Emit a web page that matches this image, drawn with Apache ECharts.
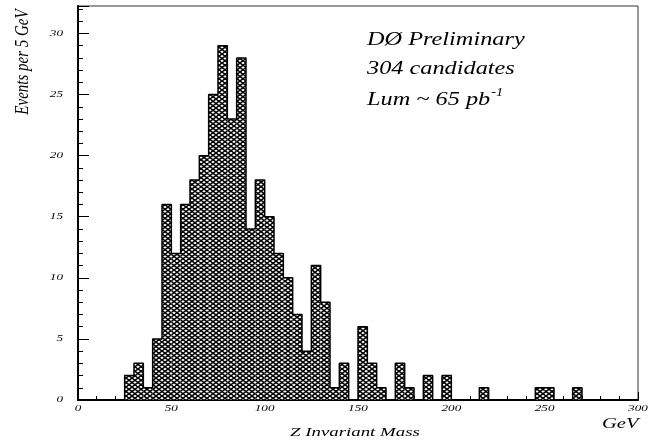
<!DOCTYPE html>
<html>
<head>
<meta charset="utf-8">
<script src="https://cdn.jsdelivr.net/npm/echarts@6/dist/echarts.min.js"></script>
<style>
  html, body { margin: 0; padding: 0; background: #fff; }
  #chart { width: 649px; height: 441px; }
</style>
</head>
<body>
<div id="chart"></div>
<script>
// Z invariant mass histogram, 5 GeV bins (only non-empty bins listed)
const binStarts = [25, 30, 35, 40, 45, 50, 55, 60, 65, 70, 75, 80, 85, 90, 95, 100, 105, 110, 115, 120,
                   125, 130, 135, 140, 150, 155, 160, 170, 175, 185, 195, 215, 245, 250, 265];
const binCounts = [2, 3, 1, 5, 16, 12, 16, 18, 20, 25, 29, 23, 28, 14, 18, 15, 12, 10, 7, 4,
                   11, 8, 1, 3, 6, 3, 1, 3, 1, 2, 2, 1, 1, 1, 1];
const binWidth = 5;

const xTickValues = [0, 50, 100, 150, 200, 250, 300];
const yTickValues = [0, 5, 10, 15, 20, 25, 30];

const infoLines = ['DØ Preliminary', '304 candidates', 'Lum ~ 65 pb'];
const infoSup = '-1';
const yAxisTitle = 'Events per 5 GeV';
const xAxisTitle = 'Z Invariant Mass';
const xUnit = 'GeV';

const X_MIN = 0, X_MAX = 300, Y_MIN = 0, Y_MAX = 32.25;
const SERIF = '"Liberation Serif", "DejaVu Serif", serif';

// cross-hatch fill tile (diamond mesh)
function hatchTile() {
  const c = document.createElement('canvas');
  c.width = 12; c.height = 9;
  const g = c.getContext('2d');
  g.fillStyle = '#fff';
  g.fillRect(0, 0, 12, 9);
  g.strokeStyle = '#000';
  g.lineWidth = 1.45;
  for (let k = -3; k <= 5; k++) {
    g.beginPath(); g.moveTo(6 * k, 0); g.lineTo(6 * k - 12, 9); g.stroke();
    g.beginPath(); g.moveTo(6 * k, 0); g.lineTo(6 * k + 12, 9); g.stroke();
  }
  return c;
}
const hatch = hatchTile();

// bar rectangles
const barData = binStarts.map((s, i) => [s, binCounts[i]]);

// step outline over the full range
const fullCounts = {};
binStarts.forEach((s, i) => { fullCounts[s] = binCounts[i]; });
const outline = [];
for (let x = X_MIN; x < X_MAX; x += binWidth) outline.push([x, fullCounts[x] || 0]);
outline.push([X_MAX, 0]);

const chart = echarts.init(document.getElementById('chart'), null, { renderer: 'canvas' });

const option = {
  animation: false,
  backgroundColor: '#fff',
  grid: {
    left: 78, right: 11, top: 6, bottom: 41,
    show: true, borderColor: '#333', borderWidth: 1, backgroundColor: 'transparent'
  },
  xAxis: [{
    type: 'value', min: X_MIN, max: X_MAX, interval: 50,
    axisLine: { show: true, onZero: false, lineStyle: { color: '#000', width: 2 } },
    axisTick: { show: true, inside: true, length: 8, lineStyle: { color: '#000', width: 1 } },
    minorTick: { show: true, splitNumber: 5, length: 4, lineStyle: { color: '#000', width: 1 } },
    axisLabel: { show: false },
    splitLine: { show: false }
  }],
  yAxis: [{
    type: 'value', min: Y_MIN, max: Y_MAX, interval: 5,
    axisLine: { show: true, onZero: false, lineStyle: { color: '#000', width: 2 } },
    axisTick: { show: true, inside: true, length: 11, lineStyle: { color: '#000', width: 1 } },
    axisLabel: { show: false },
    splitLine: { show: false }
  }, {
    type: 'value', min: Y_MIN, max: Y_MAX, interval: 1, position: 'left',
    axisLine: { show: false },
    axisTick: { show: true, inside: true, length: 5, lineStyle: { color: '#000', width: 1 } },
    axisLabel: { show: false },
    splitLine: { show: false }
  }],
  series: [{
    type: 'custom',
    xAxisIndex: 0, yAxisIndex: 0,
    data: barData,
    renderItem: function (params, api) {
      const x0 = api.value(0), h = api.value(1);
      const p0 = api.coord([x0, h]);
      const p1 = api.coord([x0 + binWidth, 0]);
      return {
        type: 'rect',
        shape: { x: p0[0], y: p0[1], width: p1[0] - p0[0], height: p1[1] - p0[1] },
        style: { fill: { image: hatch, repeat: 'repeat' }, stroke: null }
      };
    },
    z: 2
  }, {
    type: 'line',
    xAxisIndex: 0, yAxisIndex: 0,
    data: outline,
    step: 'end',
    symbol: 'none',
    lineStyle: { color: '#000', width: 1.5 },
    z: 3
  }]
};
chart.setOption(option);

// text drawn with a horizontal stretch
function txt(str, x, y, size, sx, align, extra) {
  return Object.assign({
    type: 'text', x: x, y: y, scaleX: sx, scaleY: 1, z: 10,
    style: {
      text: str, fill: '#000',
      font: 'italic ' + size + 'px ' + SERIF,
      textAlign: align, align: align,
      textVerticalAlign: 'middle', verticalAlign: 'middle'
    }
  }, extra || {});
}

function measure(str, size) {
  const c = document.createElement('canvas').getContext('2d');
  c.font = 'italic ' + size + 'px ' + SERIF;
  return c.measureText(str).width;
}

const graphics = [];
const axisX = chart.convertToPixel({ xAxisIndex: 0 }, 0);
const axisY = chart.convertToPixel({ yAxisIndex: 0 }, 0);

yTickValues.forEach(v => {
  const py = chart.convertToPixel({ yAxisIndex: 0 }, v);
  graphics.push(txt(String(v), axisX - 15, py, 8.5, 1.55, 'right'));
});
xTickValues.forEach(v => {
  const px = chart.convertToPixel({ xAxisIndex: 0 }, v);
  graphics.push(txt(String(v), px, axisY + 9, 8.5, 1.55, 'center'));
});

// axis titles
graphics.push(txt(xAxisTitle, 290, 433, 13, 1.45, 'left'));
graphics.push(txt(xUnit, 602, 424, 15, 1.37, 'left'));
graphics.push(txt(yAxisTitle, 23, 62, 15, 1, 'center', { rotation: Math.PI / 2, scaleY: 1.3 }));

// info block
const infoX = 367, infoSX = 1.35, infoSize = 18;
const infoY = [40.5, 69.5, 100.5];
infoLines.forEach((s, i) => graphics.push(txt(s, infoX, infoY[i], infoSize, infoSX, 'left')));
const lumW = measure(infoLines[2], infoSize) * infoSX;
graphics.push(txt(infoSup, infoX + lumW + 1, 93, 12, 1.2, 'left'));

chart.setOption({ graphic: { elements: graphics } });
</script>
</body>
</html>
